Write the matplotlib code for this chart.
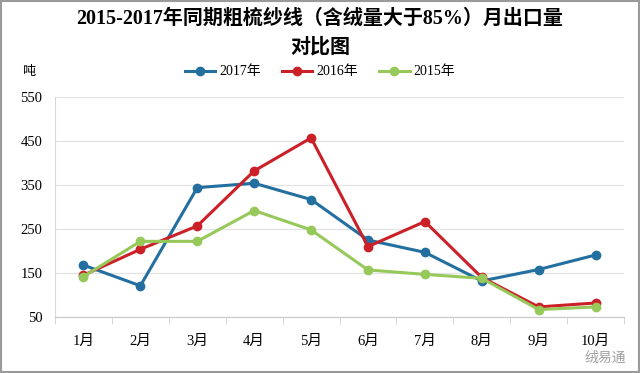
import matplotlib
matplotlib.use("Agg")
import matplotlib.pyplot as plt
from matplotlib.patches import Rectangle

plt.rcParams['font.family'] = ['Liberation Serif', 'Noto Sans CJK SC', 'DejaVu Sans']

months = ["1月", "2月", "3月", "4月", "5月", "6月", "7月", "8月", "9月", "10月"]
y2017 = [168, 121, 344, 354, 317, 225, 197, 132, 158, 191]
y2016 = [145, 204, 257, 382, 457, 210, 267, 140, 73, 82]
y2015 = [142, 222, 222, 292, 248, 157, 147, 138, 67, 73]
yticks = [50, 150, 250, 350, 450, 550]

series = [("2017年", y2017, "#236fa0"),
          ("2016年", y2016, "#cc2028"),
          ("2015年", y2015, "#96c85a")]

fig = plt.figure(figsize=(6.4, 3.73), dpi=100)
ax = fig.add_axes([0.086, 0.150, 0.889, 0.590])

x = list(range(1, len(months) + 1))
for label, vals, color in series:
    ax.plot(x, vals, color=color, lw=2.2, marker='o', ms=6, label=label, zorder=3)

ax.set_xlim(0.5, len(months) + 0.5)
ax.set_ylim(50, 550)
ax.set_yticks(yticks)
ax.set_yticklabels([str(v) for v in yticks], fontsize=10.5)
ax.yaxis.grid(True, color="#e3e3e3", lw=0.9)
ax.set_axisbelow(True)
ax.tick_params(axis='y', length=0, pad=9)

ax.set_xticks(x)
ax.set_xticklabels(months, fontsize=10.5)
ax.tick_params(axis='x', length=0, pad=13)
ax.set_xticks([i + 0.5 for i in range(0, len(months) + 1)], minor=True)
ax.tick_params(axis='x', which='minor', length=5, color="#d0d0d0", direction='out')

for s in ['top', 'right']:
    ax.spines[s].set_visible(False)
ax.spines['left'].set_color("#d8d8d8")
ax.spines['bottom'].set_color("#c8c8c8")

fig.text(0.5, 0.952, "2015-2017年同期粗梳纱线（含绒量大于85%）月出口量",
         ha='center', va='center', fontsize=14.4, fontweight='bold')
fig.text(0.5, 0.872, "对比图", ha='center', va='center', fontsize=14.4, fontweight='bold')
fig.text(0.044, 0.807, "吨", ha='center', va='center', fontsize=9.5)

leg = fig.legend(loc='center', bbox_to_anchor=(0.5, 0.807), ncol=3, frameon=False,
                 fontsize=10, handlelength=2.2, columnspacing=1.5, handletextpad=0.3)

fig.text(0.945, 0.042, "绒易通", ha='center', va='center', fontsize=10,
         color="#a0a0a0", family=['Noto Sans CJK SC'])

fig.patches.append(Rectangle((0.002, 0.004), 0.996, 0.992, transform=fig.transFigure,
                             fill=False, edgecolor="#9a9a9a", lw=1.5))

fig.savefig("out.png", dpi=100, facecolor='white')
